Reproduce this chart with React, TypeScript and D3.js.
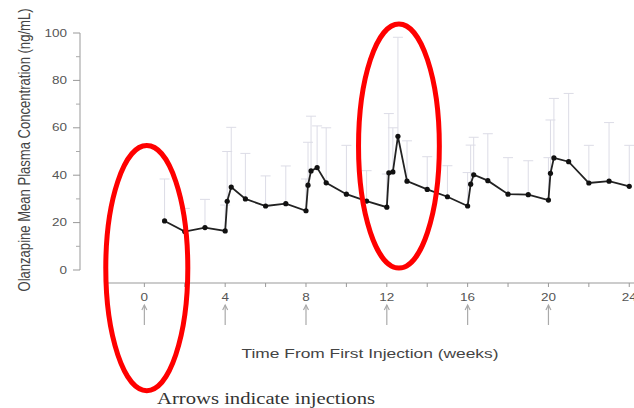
import React from "react";
import * as d3 from "d3";

const width = 634;
const height = 408;

// weeks since first injection, mean concentration and top of the error bar
const weeks = [1, 2, 3, 4, 4.1, 4.3, 5, 6, 7, 8, 8.1, 8.25, 8.55, 9, 10, 11, 12, 12.1, 12.3, 12.55, 13, 14, 15, 16, 16.15, 16.3, 17, 18, 19, 20, 20.1, 20.27, 21, 22, 23, 24];
const meanConc = [20.7, 16.2, 17.9, 16.5, 29, 35, 30, 27, 28, 25, 35.8, 41.8, 43.2, 36.8, 32, 29.1, 26.5, 41, 41.4, 56.4, 37.5, 34, 30.9, 27, 36.2, 40.2, 37.7, 32, 31.8, 29.5, 40.8, 47.3, 45.7, 36.7, 37.5, 35.3];
const upperConc = [38.4, 26, 29.8, 27.4, 50, 60.2, 49.2, 39.7, 43.9, 38.4, 53.9, 64.9, 60.8, 60, 52.6, 41.9, 40.5, 66, 60, 98.2, 54.5, 47.8, 44, 41.1, 52.7, 56, 57.5, 47.4, 46.1, 47.4, 63.3, 72.4, 74.5, 52.6, 62.2, 52.6];

const yTicks = [0, 20, 40, 60, 80, 100];
const yMinorTicks = [10, 30, 50, 70, 90];
const xTicks = [0, 4, 8, 12, 16, 20, 24];
const xMinorTicks = [2, 6, 10, 14, 18, 22];
const injections = [0, 4, 8, 12, 16, 20];

// red circled regions: centre week, centre value, radius in weeks, radius in ng/mL
const highlights = [
  { t: 0.12, v: 0.8, rt: 2.03, rv: 51.7 },
  { t: 12.6, v: 52.3, rt: 2.0, rv: 51.5 }
];

const x = d3.scaleLinear().domain([-1.8, 24.2]).range([108, 633.3]);
const y = d3.scaleLinear().domain([0, 100]).range([270, 33]);

const axisY = 80;
const axisX = 283;

export default function App() {
  const points = weeks.map((t, i) => ({ t, mean: meanConc[i], upper: upperConc[i] }));
  const line = d3
    .line<{ t: number; mean: number }>()
    .x(d => x(d.t))
    .y(d => y(d.mean));

  return (
    <svg
      width={width}
      height={height}
      style={{ position: "absolute", left: 0, top: 0, background: "#fff" }}
      fontFamily="'Liberation Sans', Arial, sans-serif"
    >
      {/* y axis */}
      <line x1={axisY} x2={axisY} y1={y(0)} y2={y(100)} stroke="#999" />
      {yTicks.map(v => (
        <g key={v}>
          <line x1={axisY - 7} x2={axisY} y1={y(v)} y2={y(v)} stroke="#999" />
          <text
            x={67}
            y={y(v)}
            dy="0.36em"
            textAnchor="end"
            fontSize={10}
            fill="#555"
            textLength={String(v).length * 7.5}
            lengthAdjust="spacingAndGlyphs"
          >
            {v}
          </text>
        </g>
      ))}
      {yMinorTicks.map(v => (
        <line key={v} x1={axisY - 4} x2={axisY} y1={y(v)} y2={y(v)} stroke="#aaa" />
      ))}
      <text
        transform={`translate(24, 150) rotate(-90) scale(1, 1.3)`}
        textAnchor="middle"
        dy="0.35em"
        fontSize={12.5}
        fill="#444"
        textLength={283}
        lengthAdjust="spacingAndGlyphs"
      >
        Olanzapine Mean Plasma Concentration (ng/mL)
      </text>

      {/* x axis */}
      <line x1={x.range()[0]} x2={width} y1={axisX} y2={axisX} stroke="#999" />
      {xTicks.concat(xMinorTicks).map(t => (
        <line key={t} x1={x(t)} x2={x(t)} y1={axisX} y2={axisX + 4} stroke="#999" />
      ))}
      {xTicks.map(t => (
        <text
          key={t}
          x={x(t)}
          y={301}
          textAnchor="middle"
          fontSize={10}
          fill="#555"
          textLength={String(t).length * 7.5}
          lengthAdjust="spacingAndGlyphs"
        >
          {t}
        </text>
      ))}
      <text
        x={370}
        y={358}
        textAnchor="middle"
        fontSize={13}
        fill="#444"
        textLength={257}
        lengthAdjust="spacingAndGlyphs"
      >
        Time From First Injection (weeks)
      </text>

      {/* injection arrows */}
      {injections.map(t => (
        <g key={t} stroke="#aaa" fill="none" strokeWidth={1.2}>
          <line x1={x(t)} x2={x(t)} y1={305} y2={325} />
          <path d={`M${x(t) - 2.5},${310} L${x(t)},${305} L${x(t) + 2.5},${310}`} />
        </g>
      ))}

      {/* error bars */}
      {points.map((d, i) => (
        <g key={i} stroke="#dcdce6" strokeWidth={1}>
          <line x1={x(d.t)} x2={x(d.t)} y1={y(d.mean)} y2={y(d.upper)} />
          <line x1={x(d.t) - 5} x2={x(d.t) + 5} y1={y(d.upper)} y2={y(d.upper)} />
        </g>
      ))}

      {/* mean curve */}
      <path d={line(points) ?? ""} fill="none" stroke="#222" strokeWidth={1.8} />
      {points.map((d, i) => (
        <circle key={i} cx={x(d.t)} cy={y(d.mean)} r={2.6} fill="#111" />
      ))}

      {/* highlight ellipses */}
      {highlights.map((h, i) => (
        <ellipse
          key={i}
          cx={x(h.t)}
          cy={y(h.v)}
          rx={x(h.t + h.rt) - x(h.t)}
          ry={y(h.v - h.rv) - y(h.v)}
          fill="none"
          stroke="#ff0000"
          strokeWidth={5}
        />
      ))}

      <text
        x={157}
        y={404}
        fontFamily="'Liberation Serif', 'Times New Roman', serif"
        fontSize={16}
        fill="#333"
        textLength={218}
        lengthAdjust="spacingAndGlyphs"
      >
        Arrows indicate injections
      </text>
    </svg>
  );
}
